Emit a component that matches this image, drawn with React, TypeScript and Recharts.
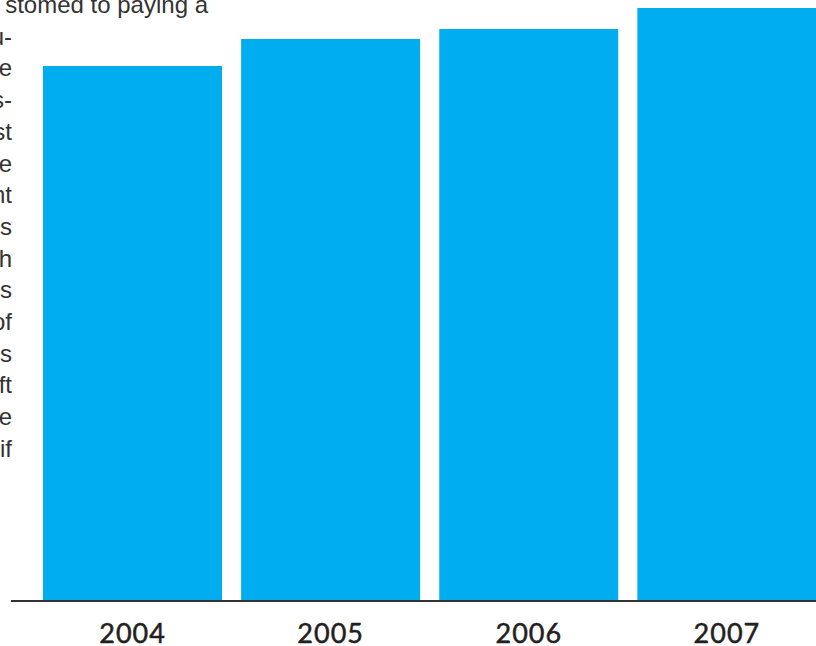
import { BarChart, Bar, XAxis, YAxis } from "recharts";

const years = ["2004", "2005", "2006", "2007"];
const values = [535, 562, 572, 593];

// fragments of the page text that sits behind the chart, cut at the left edge
const topLine = "stomed to paying a";
const lineEnds = ["u-", "e", "s-", "st", "e", "nt", "s", "h", "s", "of", "s", "ft", "e", "if"];

const data = years.map((year, i) => ({ year, value: values[i] }));

function YearTick(props: any) {
  const { x, y, payload } = props;
  return (
    <text
      x={x}
      y={y + 42}
      textAnchor="middle"
      fill="#231f20"
      stroke="#231f20"
      strokeWidth={0.5}
      fontSize={27}
      fontFamily="Lato, sans-serif"
      letterSpacing={1}
    >
      {payload.value}
    </text>
  );
}

export default function App() {
  return (
    <div
      style={{
        position: "absolute",
        left: 0,
        top: 0,
        width: 816,
        height: 646,
        overflow: "hidden",
        background: "#fff",
      }}
    >
      <svg
        width={816}
        height={646}
        style={{ position: "absolute", left: 0, top: 0 }}
        fontFamily="'Liberation Sans', Arial, sans-serif"
        fontSize={24}
        fill="#333"
      >
        <text x={208} y={13} textAnchor="end">
          {topLine}
        </text>
        {lineEnds.map((t, i) => (
          <text key={i} x={12} y={13 + 31.7 * (i + 1)} textAnchor="end">
            {t}
          </text>
        ))}
      </svg>
      <div style={{ position: "absolute", left: 0, top: 0 }}>
        <BarChart
          width={826}
          height={646}
          data={data}
          margin={{ top: 1, right: 0, left: 11, bottom: 0 }}
          barCategoryGap={9.5}
        >
          <XAxis
            dataKey="year"
            height={45}
            padding={{ left: 22.5, right: 0 }}
            axisLine={{ stroke: "#333", strokeWidth: 2 }}
            tickLine={false}
            tickSize={0}
            tickMargin={0}
            tick={<YearTick />}
            interval={0}
          />
          <YAxis hide domain={[0, 600]} />
          <Bar dataKey="value" fill="#00aeef" isAnimationActive={false} />
        </BarChart>
      </div>
    </div>
  );
}
